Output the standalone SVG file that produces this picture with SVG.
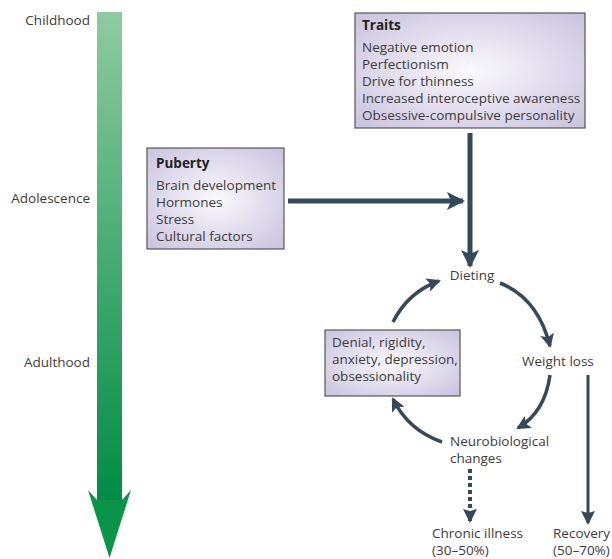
<svg xmlns="http://www.w3.org/2000/svg" width="612" height="559" viewBox="0 0 612 559">
<defs>
<linearGradient id="green" x1="0" y1="0" x2="0" y2="1">
<stop offset="0" stop-color="#8ecb9f"/>
<stop offset="1" stop-color="#008c45"/>
</linearGradient>
<radialGradient id="lav" cx="0.5" cy="0.5" r="0.65">
<stop offset="0" stop-color="#faf9fd"/>
<stop offset="1" stop-color="#cdc6e0"/>
</radialGradient>
<marker id="hd" markerUnits="userSpaceOnUse" viewBox="0 0 18 18" markerWidth="18" markerHeight="18" refX="16" refY="9" orient="auto">
<path d="M0,0 L18,9 L0,18 L4,9 Z" fill="#34495a"/>
</marker>
<marker id="hc" markerUnits="userSpaceOnUse" viewBox="0 0 14 14" markerWidth="14" markerHeight="14" refX="12" refY="7" orient="auto">
<path d="M0,0 L14,7 L0,14 L3,7 Z" fill="#34495a"/>
</marker>
<marker id="hs" markerUnits="userSpaceOnUse" viewBox="0 0 14 14" markerWidth="14" markerHeight="14" refX="12" refY="7" orient="auto">
<path d="M0,0 L14,7 L0,14 L2,7 Z" fill="#34495a"/>
</marker>
</defs>
<style>
text{font-family:"Open Sans","Noto Sans",sans-serif;font-size:13.5px;fill:#3c3c3c}
.b{font-weight:bold;fill:#222}
.box{fill:url(#lav);stroke:#555;stroke-width:1.2}
.arr{fill:none;stroke:#34495a;stroke-linecap:butt}
.lbl{text-anchor:end}
</style>
<rect width="612" height="559" fill="#ffffff"/>
<g id="timeline">
<rect x="97" y="12" width="25" height="490" fill="url(#green)"/>
<path d="M88,490 L97,500 L122,500 L131,490 L109.5,558 Z" fill="#0a9448"/>
<text class="lbl" x="90" y="25">Childhood</text>
<text class="lbl" x="90" y="203">Adolescence</text>
<text class="lbl" x="90" y="367">Adulthood</text>
</g>
<g id="traits">
<rect class="box" x="355" y="13" width="230" height="115"/>
<text class="b" x="362" y="30">Traits</text>
<text x="362" y="52">Negative emotion</text>
<text x="362" y="69">Perfectionism</text>
<text x="362" y="86">Drive for thinness</text>
<text x="362" y="103">Increased interoceptive awareness</text>
<text x="362" y="120">Obsessive-compulsive personality</text>
</g>
<g id="puberty">
<rect class="box" x="147" y="148" width="137" height="101"/>
<text class="b" x="156" y="168">Puberty</text>
<text x="156" y="190">Brain development</text>
<text x="156" y="207">Hormones</text>
<text x="156" y="224">Stress</text>
<text x="156" y="241">Cultural factors</text>
</g>
<g id="denial">
<rect class="box" x="325" y="330" width="135" height="66"/>
<text x="332" y="347">Denial, rigidity,</text>
<text x="332" y="364">anxiety, depression,</text>
<text x="332" y="381">obsessionality</text>
</g>
<g id="dieting"><text x="472" y="280" text-anchor="middle">Dieting</text></g>
<g id="weightloss"><text x="522" y="366">Weight loss</text></g>
<g id="neuro"><text x="450" y="446">Neurobiological</text><text x="450" y="463">changes</text></g>
<g id="chronic"><text x="432" y="538">Chronic illness</text><text x="432" y="555">(30–50%)</text></g>
<g id="recovery"><text x="553" y="538">Recovery</text><text x="553" y="555">(50–70%)</text></g>
<g id="connectors">
<line class="arr" x1="470" y1="133" x2="470" y2="266" stroke-width="5" marker-end="url(#hd)"/>
<line class="arr" x1="288" y1="201" x2="463" y2="201" stroke-width="5" marker-end="url(#hd)"/>
<path class="arr" d="M393,322 Q408,292 439,281" stroke-width="3.5" marker-end="url(#hc)"/>
<path class="arr" d="M500,283 Q538,298 550,346" stroke-width="3.5" marker-end="url(#hc)"/>
<path class="arr" d="M550,375 Q545,412 518,428" stroke-width="3.5" marker-end="url(#hc)"/>
<path class="arr" d="M442,442 Q408,430 393,399" stroke-width="3.5" marker-end="url(#hc)"/>
<line class="arr" x1="470" y1="469" x2="470" y2="521" stroke-width="4" stroke-dasharray="4,3" marker-end="url(#hs)"/>
<line class="arr" x1="588" y1="375" x2="588" y2="523" stroke-width="3" marker-end="url(#hs)"/>
</g>
</svg>
